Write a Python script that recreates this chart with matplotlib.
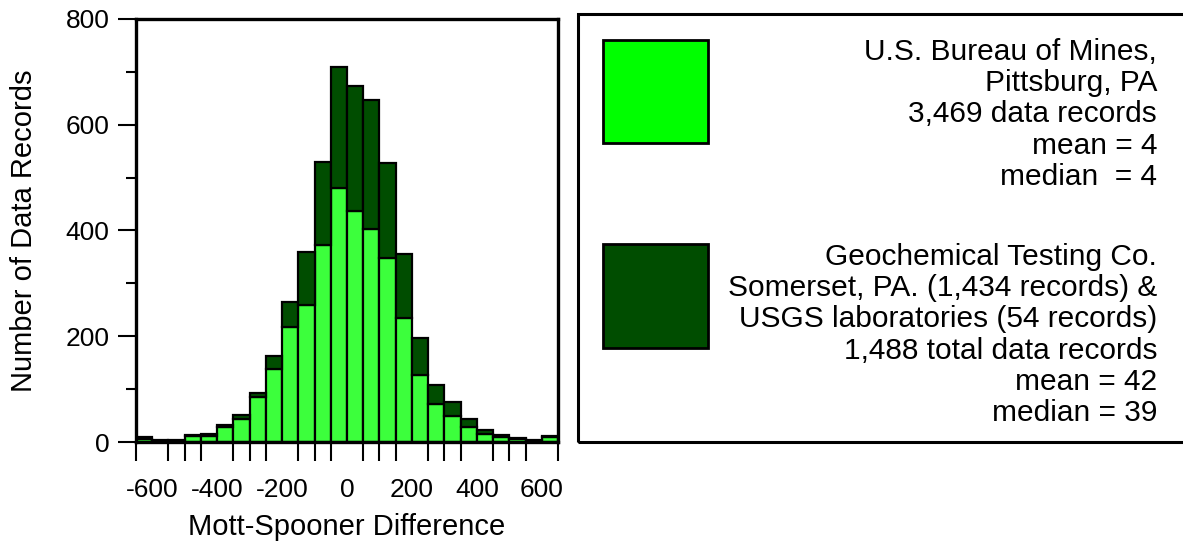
import matplotlib.pyplot as plt
from matplotlib.patches import Rectangle
import numpy as np

plt.rcParams['font.family'] = ['Liberation Sans', 'DejaVu Sans']
plt.rcParams['axes.unicode_minus'] = False

# bin edges of the histogram (Mott-Spooner difference, 50-unit bins)
bin_edges = list(range(-650, 651, 50))

# U.S. Bureau of Mines counts per bin
usbm_counts = [5, 2, 1, 11, 12, 28, 43, 86, 139, 218, 260, 372, 481,
               437, 402, 348, 235, 127, 72, 50, 29, 16, 9, 5, 1, 10]
# Geochemical Testing Co. + USGS counts per bin (stacked on top)
gtc_counts = [5, 2, 2, 2, 4, 5, 8, 7, 24, 46, 99, 157, 229,
              236, 244, 179, 120, 70, 36, 26, 15, 7, 4, 3, 2, 2]

x_ticks = [-600, -400, -200, 0, 200, 400, 600]
y_ticks = [0, 200, 400, 600, 800]

usbm_lines = ["U.S. Bureau of Mines,", "Pittsburg, PA", "3,469 data records",
              "mean = 4", "median  = 4"]
gtc_lines = ["Geochemical Testing Co.", "Somerset, PA. (1,434 records) &",
             "USGS laboratories (54 records)", "1,488 total data records",
             "mean = 42", "median = 39"]

light = '#3CFF3C'
dark = '#004D00'

W, H = 1183, 542
fig = plt.figure(figsize=(W / 100, H / 100), dpi=100)
ax = fig.add_axes([136 / W, (H - 442) / H, 422 / W, 423 / H])

lefts = np.array(bin_edges[:-1])
ax.bar(lefts, usbm_counts, width=50, align='edge', color=light,
       edgecolor='black', linewidth=1.6, zorder=2)
ax.bar(lefts, gtc_counts, width=50, align='edge', bottom=usbm_counts,
       color=dark, edgecolor='black', linewidth=1.6, zorder=2)

ax.set_xlim(-650, 650)
ax.set_ylim(0, 800)
ax.set_xticks(x_ticks)
ax.set_xticks(bin_edges, minor=True)
ax.set_yticks(y_ticks)
ax.set_yticks([100, 300, 500, 700], minor=True)
ax.tick_params(axis='x', which='major', length=0, pad=26, labelsize=19)
ax.tick_params(axis='x', which='minor', length=14, width=1.5, direction='out')
ax.tick_params(axis='y', which='major', length=13, width=1.5, pad=6, labelsize=19)
ax.tick_params(axis='y', which='minor', length=7, width=1.5)
for s in ax.spines.values():
    s.set_linewidth(2.4)

ax.set_xlabel('Mott-Spooner Difference', fontsize=21, labelpad=8)
ax.set_ylabel('Number of Data Records', fontsize=21, labelpad=20)

# legend panel drawn in figure pixels
def px(x, y):
    return x / W, (H - y) / H

box = Rectangle(px(578, 442), (1200 - 578) / W, 428 / H, transform=fig.transFigure,
                fill=False, edgecolor='black', linewidth=2.2, clip_on=False)
fig.patches.append(box)
sq1 = Rectangle(px(603, 143), 105 / W, 103 / H, transform=fig.transFigure,
                facecolor='#00FF00', edgecolor='black', linewidth=2)
sq2 = Rectangle(px(603, 348), 105 / W, 104 / H, transform=fig.transFigure,
                facecolor=dark, edgecolor='black', linewidth=2)
fig.patches.extend([sq1, sq2])

for i, t in enumerate(usbm_lines):
    fig.text(*px(1157, 52 + i * 31.2), t, ha='right', va='center', fontsize=21.5)
for i, t in enumerate(gtc_lines):
    fig.text(*px(1157, 257 + i * 31.2), t, ha='right', va='center', fontsize=21.5)

fig.savefig('out.png', dpi=100)
